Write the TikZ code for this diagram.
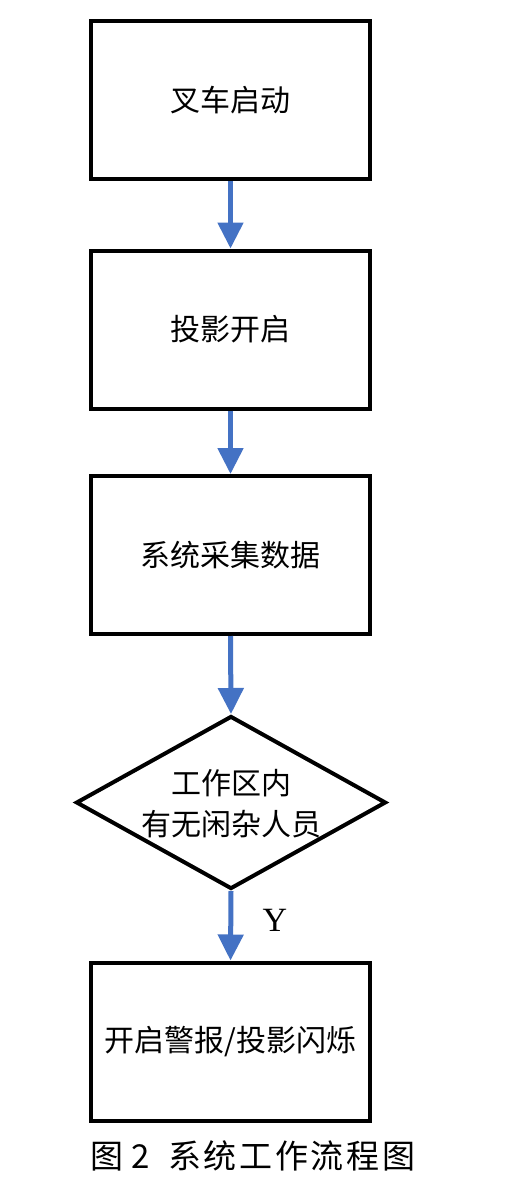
\documentclass[tikz,border=0pt]{standalone}
\usepackage{fontspec}
\newfontfamily\cjk{Noto Sans CJK SC}
\newfontfamily\capfont{Noto Sans CJK SC}[LetterSpace=8]
\setmainfont{Liberation Serif}
\usetikzlibrary{arrows.meta,shapes.geometric}
\begin{document}
\begin{tikzpicture}[x=1pt,y=1pt,
  stepbox/.style={draw=black,line width=4pt,minimum width=279pt,minimum height=158pt,inner sep=0pt,fill=white,font=\cjk\fontsize{30}{41}\selectfont},
  decision/.style={diamond,draw=black,line width=4pt,minimum width=310pt,minimum height=173pt,inner sep=0pt,aspect=1.79},
  flow/.style={draw={rgb,255:red,68;green,114;blue,196},line width=5pt,-{Triangle[width=25pt,length=26pt,fill={rgb,255:red,68;green,114;blue,196}]}}]
\useasboundingbox[fill=white] (0,0) rectangle (512,-1188);
\node[stepbox] (s1) at (230.5,-100) {叉车启动};
\node[stepbox] (s2) at (230.5,-329.5) {投影开启};
\node[stepbox] (s3) at (230.5,-555) {系统采集数据};
\node[decision] (d) at (231,-802.5) {};
\node[align=center,inner sep=0pt,font=\cjk\fontsize{30}{41}\selectfont] (dt) at (231,-804) {工作区内\\有无闲杂人员};
\node[stepbox] (s5) at (230.5,-1041.5) {开启警报/投影闪烁};
\draw[flow] (s1.south) -- (s2.north);
\draw[flow] (s2.south) -- (s3.north);
\draw[flow] (s3.south) -- (d.north);
\draw[flow] (d.south) -- (s5.north);
\node[font=\fontsize{34}{38}\selectfont,inner sep=0pt] (y) at (275,-920) {Y};
\node[font=\capfont\fontsize{33}{40}\selectfont,inner sep=0pt] (cap) at (253,-1156) {图\hspace{8pt}2\hspace{18pt}系统工作流程图};
\end{tikzpicture}
\end{document}
